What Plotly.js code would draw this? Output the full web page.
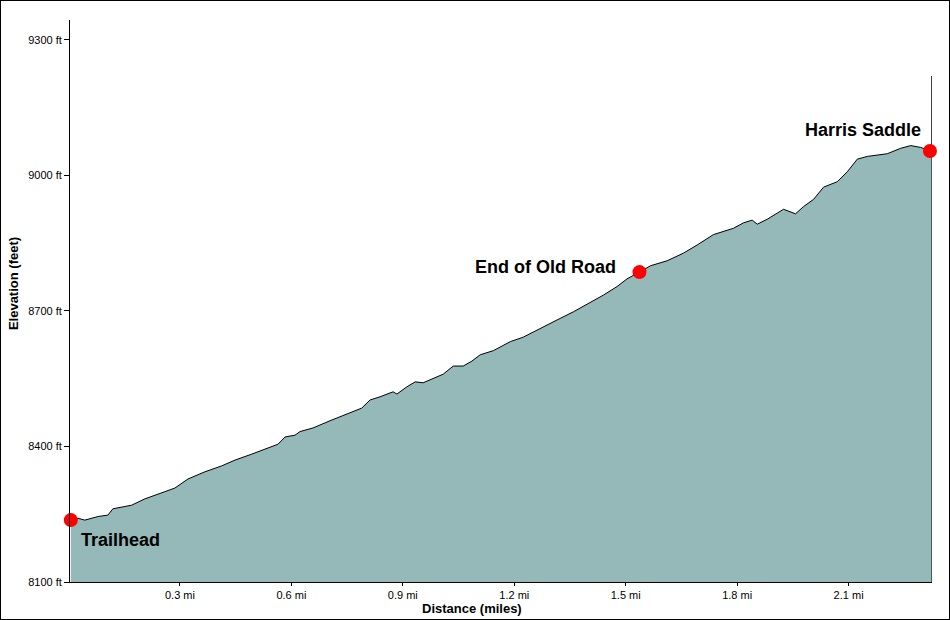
<!DOCTYPE html>
<html>
<head>
<meta charset="utf-8">
<script src="https://cdn.plot.ly/plotly-3.0.1.min.js"></script>
<style>
  html, body { margin: 0; padding: 0; background: #fff; }
  #wrap { width: 950px; height: 620px; box-sizing: border-box; border: 1px solid #000; }
  #chart { width: 948px; height: 618px; }
</style>
</head>
<body>
<div id="wrap"><div id="chart"></div></div>
<script>
// Profile: distance (miles) and elevation (feet)
const distance = [0.0062, 0.0259, 0.0439, 0.0798, 0.1059, 0.1194, 0.1698, 0.2056, 0.2595, 0.2865,
  0.3215, 0.3673, 0.4123, 0.4486, 0.4931, 0.529, 0.564, 0.5829, 0.6098, 0.6233,
  0.6583, 0.7041, 0.7491, 0.7895, 0.8119, 0.8388, 0.8739, 0.8839, 0.9108, 0.9332,
  0.9547, 0.9817, 1.0086, 1.0356, 1.0625, 1.086, 1.1083, 1.1434, 1.1892, 1.2242,
  1.27, 1.315, 1.359, 1.4048, 1.4398, 1.4767, 1.5036, 1.537, 1.5666, 1.6114,
  1.6555, 1.6923, 1.7362, 1.7901, 1.817, 1.8405, 1.854, 1.8809, 1.9248, 1.9572,
  1.9787, 2.0057, 2.0326, 2.0695, 2.0965, 2.1234, 2.1503, 2.2042, 2.2401, 2.2671,
  2.294, 2.319, 2.3245, 2.3245, 2.3245];
const elevation = [8237, 8241, 8237, 8245, 8248, 8262, 8270, 8284, 8300, 8308,
  8328, 8344, 8357, 8370, 8383, 8394, 8405, 8421, 8425, 8433,
  8441, 8457, 8472, 8485, 8503, 8510, 8521, 8516, 8532, 8543,
  8541, 8551, 8560, 8578, 8578, 8589, 8603, 8612, 8632, 8642,
  8662, 8680, 8698, 8718, 8735, 8754, 8771, 8786, 8800, 8811,
  8828, 8846, 8869, 8883, 8895, 8901, 8892, 8903, 8925, 8915,
  8931, 8947, 8974, 8986, 9008, 9036, 9042, 9048, 9060, 9066,
  9062, 9054, 9050, 9220, 8100];

// Waypoints
const waypointNames = ["Trailhead", "End of Old Road", "Harris Saddle"];
const waypointDist = [0.0062, 1.537, 2.319];
const waypointElev = [8237, 8786, 9054];

// Ticks
const yTicks = [8100, 8400, 8700, 9000, 9300];
const xTicks = [0.3, 0.6, 0.9, 1.2, 1.5, 1.8, 2.1];

const FONT = '"Liberation Sans", Arial, sans-serif';

const profile = {
  x: distance, y: elevation, type: 'scatter', mode: 'lines',
  fill: 'tozeroy', fillcolor: '#95b8b8',
  line: { color: '#000', width: 1 },
  hoverinfo: 'skip', showlegend: false
};
const points = {
  x: waypointDist, y: waypointElev, type: 'scatter', mode: 'markers',
  marker: { color: '#ff0000', size: 14 },
  cliponaxis: false, hoverinfo: 'skip', showlegend: false
};

const labelOffsets = [
  { xanchor: 'left', xshift: 8, yshift: -20 },
  { xanchor: 'right', xshift: -21, yshift: 5 },
  { xanchor: 'right', xshift: -7, yshift: 21 }
];
const annotations = waypointNames.map((n, i) => Object.assign({
  x: waypointDist[i], y: waypointElev[i], xref: 'x', yref: 'y',
  text: '<b>' + n + '</b>', showarrow: false, yanchor: 'middle',
  font: { family: FONT, size: 18, color: '#000' }
}, labelOffsets[i]));

annotations.push({
  xref: 'paper', yref: 'paper', x: (471 - 69) / 862, y: -(607 - 581) / 562, yanchor: 'middle',
  text: '<b>Distance (miles)</b>', showarrow: false,
  font: { family: FONT, size: 13, color: '#000' }
});
annotations.push({
  xref: 'paper', yref: 'paper', x: -0.066, y: (582 - 284) / 562, xanchor: 'center',
  text: '<b>Elevation (feet)</b>', showarrow: false, textangle: -90,
  font: { family: FONT, size: 13, color: '#000' }
});

const layout = {
  width: 948, height: 618,
  margin: { l: 69, r: 17, t: 19, b: 37 },
  paper_bgcolor: '#fff', plot_bgcolor: '#fff',
  font: { family: FONT, size: 11, color: '#000' },
  xaxis: {
    range: [0.004, 2.3245], tickvals: xTicks, ticktext: xTicks.map(v => v.toFixed(1) + ' mi'),
    showgrid: false, zeroline: false, showline: true, linecolor: '#000', linewidth: 1,
    ticks: 'outside', ticklen: 3, tickcolor: '#000', tickfont: { family: FONT, size: 11 }
  },
  yaxis: {
    range: [8100, 9344], tickvals: yTicks, ticktext: yTicks.map(v => v + ' ft'),
    showgrid: false, zeroline: false, showline: true, linecolor: '#000', linewidth: 1,
    ticks: 'outside', ticklen: 5, tickcolor: '#000', tickfont: { family: FONT, size: 11 }
  },
  annotations: annotations
};

Plotly.newPlot('chart', [profile, points], layout, { staticPlot: true, displayModeBar: false });
</script>
</body>
</html>
